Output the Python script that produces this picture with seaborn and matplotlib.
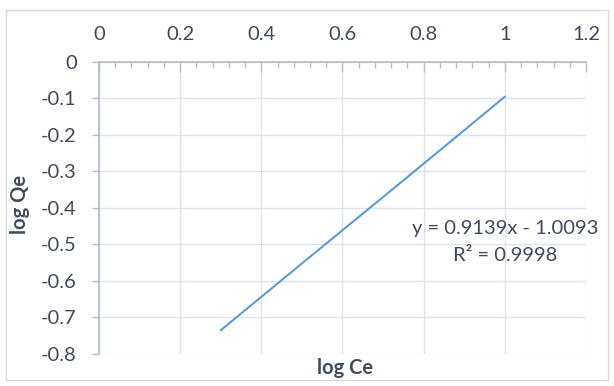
import matplotlib
matplotlib.use("Agg")
import matplotlib.pyplot as plt
from matplotlib.patches import Rectangle
from matplotlib.ticker import MultipleLocator
import seaborn as sns
import pandas as pd

# log-transformed isotherm values
log_ce = [0.30, 0.50, 0.70, 0.90, 1.00]
log_qe = [-0.735, -0.552, -0.370, -0.187, -0.095]
equation = "y = 0.9139x - 1.0093"
r_squared = "R² = 0.9998"
x_ticks = [0, 0.2, 0.4, 0.6, 0.8, 1.0, 1.2]
x_tick_labels = ["0", "0.2", "0.4", "0.6", "0.8", "1", "1.2"]
y_ticks = [0, -0.1, -0.2, -0.3, -0.4, -0.5, -0.6, -0.7, -0.8]
y_tick_labels = ["0", "-0.1", "-0.2", "-0.3", "-0.4", "-0.5", "-0.6", "-0.7", "-0.8"]

sns.set_theme(style="white")
plt.rcParams["font.family"] = ["Lato", "DejaVu Sans"]

text_color = "#404a5c"
axis_color = "#b4bccd"
grid_color = "#dfe2ea"
line_color = "#5b9bd5"
fs = 14.5

df = pd.DataFrame({"log Ce": log_ce, "log Qe": log_qe})

fig = plt.figure(figsize=(6.14, 3.86), dpi=100)
fig.patches.append(Rectangle((0.009, 0.015), 0.981, 0.958, transform=fig.transFigure,
                             fill=False, edgecolor="#d9d9d9", linewidth=1.0))
ax = fig.add_axes([0.1612, 0.0829, 0.7932, 0.7565])

sns.lineplot(data=df, x="log Ce", y="log Qe", ax=ax, color=line_color,
             linewidth=1.5, sort=False)

ax.set_xlim(0, 1.2)
ax.set_ylim(-0.8, 0)
ax.xaxis.tick_top()
ax.set_xticks(x_ticks)
ax.set_xticklabels(x_tick_labels)
ax.set_yticks(y_ticks)
ax.set_yticklabels(y_tick_labels)
ax.xaxis.set_minor_locator(MultipleLocator(0.04))

ax.grid(True, which="major", color=grid_color, linewidth=1.0)
ax.set_axisbelow(True)

for side in ["right", "bottom"]:
    ax.spines[side].set_visible(False)
for side in ["top", "left"]:
    ax.spines[side].set_color(axis_color)
    ax.spines[side].set_linewidth(1.2)

ax.tick_params(axis="x", which="major", direction="in", length=7, width=1.0,
               color=axis_color, labelsize=fs, labelcolor=text_color, pad=14, top=True)
ax.tick_params(axis="x", which="minor", direction="in", length=4, width=1.0,
               color=axis_color, top=True)
ax.tick_params(axis="y", which="major", direction="out", length=5, width=1.0,
               color=axis_color, labelsize=fs, labelcolor=text_color, pad=11, left=True)

ax.set_xlabel("")
ax.set_ylabel("")
fig.text(0.033, 0.47, "log Qe", ha="center", va="center", rotation=90, fontsize=fs,
         fontweight="bold", color=text_color)
fig.text(0.562, 0.047, "log Ce", ha="center", va="center", fontsize=fs,
         fontweight="bold", color=text_color)

ax.text(1.0, -0.455, equation, ha="center", va="center", fontsize=fs, color=text_color)
ax.text(1.0, -0.53, r_squared, ha="center", va="center", fontsize=fs, color=text_color)

fig.savefig("out.png", dpi=100)
